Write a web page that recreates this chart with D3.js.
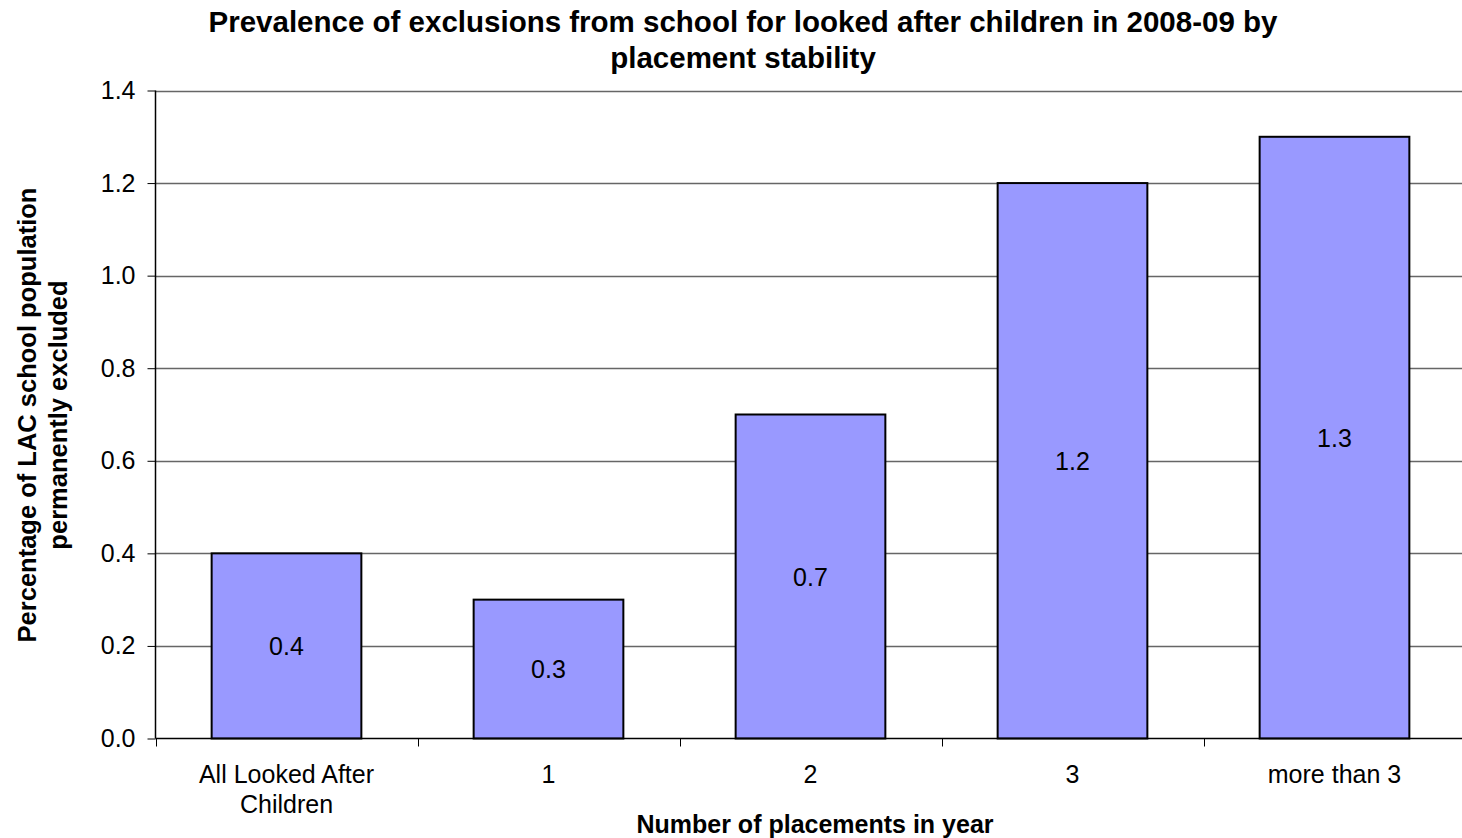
<!DOCTYPE html>
<html>
<head>
<meta charset="utf-8">
<script src="https://cdn.jsdelivr.net/npm/d3@7"></script>
<style>
  html, body { margin: 0; padding: 0; background: #fff; }
  svg { display: block; font-family: "Liberation Sans", Arial, sans-serif; }
</style>
</head>
<body>
<svg id="chart" width="1462" height="838"></svg>
<script>
// Permanent exclusions of looked after children, 2008-09, by placement stability
const categories = ["All Looked After|Children", "1", "2", "3", "more than 3"];
const values = [0.4, 0.3, 0.7, 1.2, 1.3];
const yTicks = [0.0, 0.2, 0.4, 0.6, 0.8, 1.0, 1.2, 1.4];
const titleLines = ["Prevalence of exclusions from school for looked after children in 2008-09 by", "placement stability"];
const yTitleLines = ["Percentage of LAC school population", "permanently excluded"];
const xTitle = "Number of placements in year";

(function () {
const svg = d3.select("#chart");
const plotLeft = 155.5, plotRight = 1465.5, plotTop = 90.5, plotBottom = 738.5;
const labelSize = 25;

const x = d3.scaleBand().domain(categories).range([plotLeft, plotRight]).padding(0);
const y = d3.scaleLinear().domain([0, 1.4]).range([plotBottom, plotTop]);
const barW = x.bandwidth() / 1.75;

// gridlines
svg.append("g").selectAll("line").data(yTicks.filter(d => d > 0)).join("line")
  .attr("x1", plotLeft).attr("x2", 1462)
  .attr("y1", d => Math.round(y(d)) + 0.5).attr("y2", d => Math.round(y(d)) + 0.5)
  .attr("stroke", "#666").attr("stroke-width", 1.3);

// bars
svg.append("g").selectAll("rect").data(values).join("rect")
  .attr("x", (d, i) => x(categories[i]) + (x.bandwidth() - barW) / 2)
  .attr("width", barW)
  .attr("y", d => y(d))
  .attr("height", d => y(0) - y(d))
  .attr("fill", "#9999ff").attr("stroke", "#000").attr("stroke-width", 2);

// value labels centred in bars
svg.append("g").selectAll("text").data(values).join("text")
  .attr("x", (d, i) => x(categories[i]) + x.bandwidth() / 2)
  .attr("y", d => y(d / 2))
  .attr("text-anchor", "middle").attr("dominant-baseline", "central")
  .attr("font-size", labelSize).attr("fill", "#000")
  .text(d => d.toFixed(1));

// y axis
const yAxis = d3.axisLeft(y).tickValues(yTicks).tickFormat(d3.format(".1f")).tickSize(8).tickPadding(12);
const gy = svg.append("g").attr("transform", `translate(${plotLeft},0)`).call(yAxis);
gy.select(".domain").attr("stroke", "#000").attr("stroke-width", 1.5).attr("d", `M0,${plotTop}V${plotBottom}`);
gy.selectAll(".tick line").attr("stroke", "#000");
gy.selectAll(".tick text").attr("font-size", labelSize).attr("font-family", "Liberation Sans, Arial, sans-serif").attr("fill", "#000");

// x axis with ticks at category boundaries
const bounds = categories.map(c => x(c));
svg.append("line").attr("x1", plotLeft).attr("x2", 1462).attr("y1", plotBottom).attr("y2", plotBottom)
  .attr("stroke", "#000").attr("stroke-width", 1.5);
svg.append("g").selectAll("line").data(bounds).join("line")
  .attr("x1", d => Math.round(d) + 0.5).attr("x2", d => Math.round(d) + 0.5)
  .attr("y1", plotBottom).attr("y2", plotBottom + 8).attr("stroke", "#000");

const xl = svg.append("g").selectAll("text").data(categories).join("text")
  .attr("x", d => x(d) + x.bandwidth() / 2)
  .attr("y", 783)
  .attr("text-anchor", "middle").attr("font-size", labelSize).attr("fill", "#000");
xl.each(function(d) {
  const parts = d.split("|");
  const t = d3.select(this);
  parts.forEach((p, i) => t.append("tspan").attr("x", t.attr("x")).attr("dy", i === 0 ? 0 : 30).text(p));
});

// chart title
svg.append("g").selectAll("text").data(titleLines).join("text")
  .attr("x", 743).attr("y", (d, i) => 32 + i * 36)
  .attr("text-anchor", "middle").attr("font-size", 29.5).attr("font-weight", "bold").attr("fill", "#000")
  .text(d => d);

// axis titles
svg.append("text").attr("x", 815).attr("y", 833)
  .attr("text-anchor", "middle").attr("font-size", 25).attr("font-weight", "bold").attr("fill", "#000")
  .text(xTitle);

svg.append("g").selectAll("text").data(yTitleLines).join("text")
  .attr("transform", (d, i) => `translate(${36 + i * 31},415) rotate(-90)`)
  .attr("text-anchor", "middle").attr("font-size", 25.5).attr("font-weight", "bold").attr("fill", "#000")
  .text(d => d);
})();
</script>
</body>
</html>
